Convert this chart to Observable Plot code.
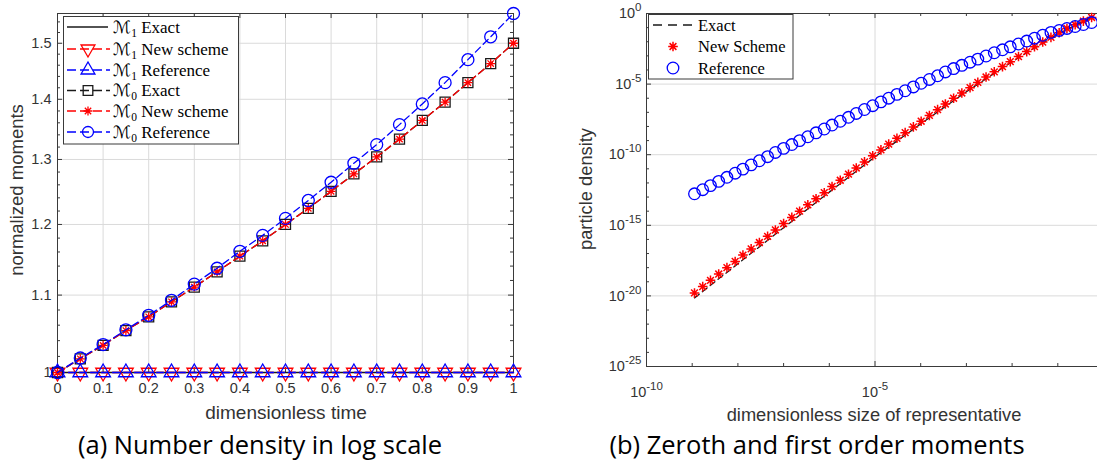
<!DOCTYPE html>
<html><head><meta charset="utf-8">
<script src="https://cdn.jsdelivr.net/npm/d3@7"></script>
<script src="https://cdn.jsdelivr.net/npm/@observablehq/plot@0.6"></script>
<style>
html,body{margin:0;padding:0;background:#fff;overflow:hidden;width:1097px;height:461px}
#wrap{position:relative;width:1097px;height:461px;overflow:hidden}
#wrap svg{position:absolute}
</style></head><body><div id="wrap"></div><script>
// ---------- DATA (a) ----------
const times = [0,0.05,0.1,0.15,0.2,0.25,0.3,0.35,0.4,0.45,0.5,0.55,0.6,0.65,0.7,0.75,0.8,0.85,0.9,0.95,1];
const m1Exact = [1,1,1,1,1,1,1,1,1,1,1,1,1,1,1,1,1,1,1,1,1];
const m1New   = [1,1,1,1,1,1,1,1,1,1,1,1,1,1,1,1,1,1,1,1,1];
const m1Ref   = [1,1,1,1,1,1,1,1,1,1,1,1,1,1,1,1,1,1,1,1,1];
const m0Exact = [1.000,1.017,1.034,1.053,1.071,1.091,1.111,1.132,1.154,1.176,1.200,1.224,1.250,1.277,1.304,1.333,1.364,1.395,1.429,1.463,1.500];
const m0New   = [1.000,1.017,1.034,1.053,1.071,1.091,1.111,1.132,1.154,1.176,1.200,1.224,1.250,1.277,1.304,1.333,1.364,1.395,1.429,1.463,1.500];
const m0Ref   = [1.000,1.018,1.035,1.054,1.073,1.093,1.115,1.137,1.161,1.184,1.209,1.236,1.264,1.294,1.324,1.357,1.392,1.429,1.470,1.512,1.556];
const tTickVals = [0,0.1,0.2,0.3,0.4,0.5,0.6,0.7,0.8,0.9,1];
const tTickLabels = ["0","0.1","0.2","0.3","0.4","0.5","0.6","0.7","0.8","0.9","1"];
const mTickVals = [1,1.1,1.2,1.3,1.4,1.5];
const mTickLabels = ["1","1.1","1.2","1.3","1.4","1.5"];
const mMinorVals = [1.02,1.04,1.06,1.08,1.12,1.14,1.16,1.18,1.22,1.24,1.26,1.28,1.32,1.34,1.36,1.38,1.42,1.44,1.46,1.48,1.52,1.54];

// ---------- DATA (b) : log10 of values ----------
const sizeExp = [-8.95,-8.77,-8.60,-8.42,-8.24,-8.06,-7.89,-7.71,-7.53,-7.35,-7.18,-7.00,-6.82,-6.65,-6.47,-6.29,-6.11,-5.94,-5.76,-5.58,-5.41,-5.23,-5.05,-4.87,-4.70,-4.52,-4.34,-4.16,-3.99,-3.81,-3.63,-3.46,-3.28,-3.10,-2.92,-2.75,-2.57,-2.39,-2.21,-2.04,-1.86,-1.68,-1.51,-1.33,-1.15,-0.97,-0.80,-0.62,-0.44,-0.26];
const newExp = [-19.79,-19.34,-18.90,-18.45,-18.00,-17.56,-17.11,-16.67,-16.22,-15.78,-15.33,-14.88,-14.44,-14.00,-13.55,-13.12,-12.69,-12.25,-11.81,-11.38,-10.94,-10.51,-10.07,-9.66,-9.25,-8.84,-8.44,-8.03,-7.63,-7.22,-6.81,-6.41,-6.00,-5.63,-5.25,-4.88,-4.50,-4.13,-3.76,-3.41,-3.05,-2.70,-2.35,-2.02,-1.69,-1.36,-1.06,-0.80,-0.54,-0.28];
const refExp = [-12.77,-12.48,-12.19,-11.89,-11.60,-11.31,-11.02,-10.72,-10.43,-10.14,-9.84,-9.55,-9.28,-9.00,-8.73,-8.45,-8.18,-7.90,-7.63,-7.35,-7.08,-6.80,-6.53,-6.26,-6.00,-5.73,-5.47,-5.20,-4.94,-4.67,-4.41,-4.14,-3.90,-3.67,-3.45,-3.23,-3.01,-2.78,-2.57,-2.36,-2.16,-1.95,-1.75,-1.54,-1.34,-1.20,-1.06,-0.92,-0.78,-0.64];
const exactSizeExp = [-8.95,-8,-7,-6,-5,-4,-3,-2,-1,-0.26];
const exactExp = [-20.14,-17.72,-15.17,-12.65,-10.15,-7.82,-5.54,-3.41,-1.45,-0.28];
const sizeTickVals = [1e-10,1e-5];
const sizeTickLabels = ["10^-10","10^-5"];
const sizeMinorVals = [1e-9,1e-8,1e-7,1e-6,1e-4,1e-3,1e-2,1e-1];
const densTickVals = [1e-25,1e-20,1e-15,1e-10,1e-5,1];
const densTickLabels = ["10^-25","10^-20","10^-15","10^-10","10^-5","10^0"];
const densMinorVals = [1e-24,1e-23,1e-22,1e-21,1e-19,1e-18,1e-17,1e-16,1e-14,1e-13,1e-12,1e-11,1e-9,1e-8,1e-7,1e-6,1e-4,1e-3,1e-2,1e-1];

// ---------- symbols ----------
const R = s => Math.sqrt(s/Math.PI);
const symAst = {draw(c,s){const r=R(s),d=r*Math.SQRT1_2;c.moveTo(-r,0);c.lineTo(r,0);c.moveTo(0,-r);c.lineTo(0,r);c.moveTo(-d,-d);c.lineTo(d,d);c.moveTo(-d,d);c.lineTo(d,-d);}};
const symSq = {draw(c,s){const r=R(s);c.moveTo(-r,-r);c.lineTo(r,-r);c.lineTo(r,r);c.lineTo(-r,r);c.closePath();}};
const symUp = {draw(c,s){const r=R(s);c.moveTo(0,-r);c.lineTo(r*0.866,r*0.5);c.lineTo(-r*0.866,r*0.5);c.closePath();}};
const symDn = {draw(c,s){const r=R(s);c.moveTo(0,r);c.lineTo(r*0.866,-r*0.5);c.lineTo(-r*0.866,-r*0.5);c.closePath();}};
const symCi = {draw(c,s){const r=R(s);c.moveTo(r,0);c.arc(0,0,r,0,2*Math.PI);}};

const red="#ff0000", blue="#0000ff", blk="#1a1a1a", axc="#3a3a3a", grid="#dadada";
const font = "'Liberation Sans', Arial, sans-serif";
const wrap = document.getElementById("wrap");

function lookup(vals, labels){ return d => { const k = vals.indexOf(d); return k<0 ? "" : labels[k]; }; }
function supify(svg){
  const ns="http://www.w3.org/2000/svg";
  svg.querySelectorAll("text").forEach(t=>{
    const s=t.textContent, k=s.indexOf("^");
    if(k<0) return;
    t.textContent="";
    const a=document.createElementNS(ns,"tspan"); a.textContent=s.slice(0,k);
    const b=document.createElementNS(ns,"tspan"); b.textContent=s.slice(k+1);
    b.setAttribute("font-size","11.5px"); b.setAttribute("dy","-0.6em");
    t.append(a,b);
  });
}

// ---------- chart (a) ----------
{
  const W=540,H=440,mt=13,ml=57,mr=27,mb=68, fw=W-ml-mr, fh=H-mt-mb;
  const idx = d3.range(times.length);
  const X = i=>times[i];
  const sw = 1.3;
  const p = Plot.plot({
    width:W,height:H,marginTop:mt,marginLeft:ml,marginRight:mr,marginBottom:mb,
    style:{fontFamily:font,fontSize:"14.5px",color:"#333",background:"transparent",overflow:"visible"},
    x:{domain:[0,1]},
    y:{type:"log",domain:[1,1.556]},
    marks:[
      Plot.gridX(tTickVals,{x:d=>d,stroke:grid,strokeOpacity:1}),
      Plot.gridY(mTickVals,{y:d=>d,stroke:grid,strokeOpacity:1}),
      Plot.tickX(tTickVals,{x:d=>d,insetTop:fh-5,stroke:axc}),
      Plot.tickX(tTickVals,{x:d=>d,insetBottom:fh-5,stroke:axc}),
      Plot.tickY(mTickVals,{y:d=>d,insetRight:fw-5,stroke:axc}),
      Plot.tickY(mTickVals,{y:d=>d,insetLeft:fw-5,stroke:axc}),
      Plot.tickY(mMinorVals,{y:d=>d,insetRight:fw-3,stroke:axc}),
      Plot.tickY(mMinorVals,{y:d=>d,insetLeft:fw-3,stroke:axc}),
      Plot.frame({stroke:axc}),
      Plot.axisX({ticks:tTickVals,tickSize:0,tickPadding:10,tickFormat:lookup(tTickVals,tTickLabels),label:null}),
      Plot.axisY({ticks:mTickVals,tickSize:0,tickPadding:6,tickFormat:lookup(mTickVals,mTickLabels),label:null}),
      Plot.line(idx,{x:X,y:i=>m1Exact[i],stroke:blk,strokeWidth:sw}),
      Plot.line(idx,{x:X,y:i=>m1New[i],stroke:red,strokeWidth:sw,strokeDasharray:"7,4"}),
      Plot.dot(idx,{x:X,y:i=>m1New[i],symbol:symDn,r:8.5,stroke:red,fill:"none",strokeWidth:sw}),
      Plot.line(idx,{x:X,y:i=>m1Ref[i],stroke:blue,strokeWidth:sw,strokeDasharray:"7,4"}),
      Plot.dot(idx,{x:X,y:i=>m1Ref[i],symbol:symUp,r:8.5,stroke:blue,fill:"none",strokeWidth:sw}),
      Plot.line(idx,{x:X,y:i=>m0Exact[i],stroke:blk,strokeWidth:sw,strokeDasharray:"7,4"}),
      Plot.dot(idx,{x:X,y:i=>m0Exact[i],symbol:symSq,r:5,stroke:blk,fill:"none",strokeWidth:sw}),
      Plot.line(idx,{x:X,y:i=>m0New[i],stroke:red,strokeWidth:sw,strokeDasharray:"7,4"}),
      Plot.dot(idx,{x:X,y:i=>m0New[i],symbol:symAst,r:4.5,stroke:red,fill:"none",strokeWidth:sw}),
      Plot.line(idx,{x:X,y:i=>m0Ref[i],stroke:blue,strokeWidth:sw,strokeDasharray:"7,4"}),
      Plot.dot(idx,{x:X,y:i=>m0Ref[i],symbol:symCi,r:6,stroke:blue,fill:"none",strokeWidth:sw})
    ]
  });
  p.style.left="0px"; p.style.top="0px";
  wrap.appendChild(p);
}

// ---------- chart (b) ----------
{
  const W=560,H=440,mt=13,ml=86,mr=17,mb=74, fw=W-ml-mr, fh=H-mt-mb;
  const idx = d3.range(sizeExp.length);
  const eidx = d3.range(exactSizeExp.length);
  const p = Plot.plot({
    width:W,height:H,marginTop:mt,marginLeft:ml,marginRight:mr,marginBottom:mb,
    style:{fontFamily:font,fontSize:"14.5px",color:"#333",background:"transparent",overflow:"visible"},
    x:{type:"log",domain:[1e-10,1]},
    y:{type:"log",domain:[1e-25,1]},
    marks:[
      Plot.gridX([1e-5],{x:d=>d,stroke:grid,strokeOpacity:1}),
      Plot.gridY([1e-20,1e-15,1e-10,1e-5],{y:d=>d,stroke:grid,strokeOpacity:1}),
      Plot.tickX(sizeTickVals,{x:d=>d,insetTop:fh-5,stroke:axc}),
      Plot.tickX(sizeTickVals,{x:d=>d,insetBottom:fh-5,stroke:axc}),
      Plot.tickX(sizeMinorVals,{x:d=>d,insetTop:fh-3,stroke:axc}),
      Plot.tickX(sizeMinorVals,{x:d=>d,insetBottom:fh-3,stroke:axc}),
      Plot.tickY(densTickVals,{y:d=>d,insetRight:fw-5,stroke:axc}),
      Plot.tickY(densMinorVals,{y:d=>d,insetRight:fw-3,stroke:axc}),
      Plot.frame({stroke:axc}),
      Plot.axisX({ticks:sizeTickVals,tickSize:0,tickPadding:20,tickFormat:lookup(sizeTickVals,sizeTickLabels),label:null}),
      Plot.axisY({ticks:densTickVals,tickSize:0,tickPadding:5,tickFormat:lookup(densTickVals,densTickLabels),label:null}),
      Plot.line(eidx,{x:i=>10**exactSizeExp[i],y:i=>10**exactExp[i],stroke:blk,strokeWidth:1.3,strokeDasharray:"6,4"}),
      Plot.dot(idx,{x:i=>10**sizeExp[i],y:i=>10**newExp[i],symbol:symAst,r:4.8,stroke:red,fill:"none",strokeWidth:1.5}),
      Plot.dot(idx,{x:i=>10**sizeExp[i],y:i=>10**refExp[i],symbol:symCi,r:5.8,stroke:blue,fill:"none",strokeWidth:1.3})
    ]
  });
  supify(p);
  p.style.left="560px"; p.style.top="0px";
  wrap.appendChild(p);
}

// ---------- overlay: titles, captions, legends ----------
{
  const ov = d3.create("svg").attr("width",1097).attr("height",461).style("left","0px").style("top","0px");
  const lab = (x,y,txt,size,rot) => {
    const t = ov.append("text").attr("text-anchor","middle").attr("font-family",font).attr("font-size",size).attr("fill","#333").text(txt);
    t.attr("transform", rot ? `translate(${x},${y}) rotate(-90)` : `translate(${x},${y})`);
  };
  lab(23,190,"normalized moments",18.5,true);
  lab(286,419,"dimensionless time",19,false);
  lab(592,189,"particle density",18.3,true);
  lab(874,421,"dimensionless size of representative",18.3,false);
  const cap = (x,y,txt) => ov.append("text").attr("x",x).attr("y",y).attr("text-anchor","middle")
      .attr("font-family","'Open Sans', sans-serif").attr("font-size",25.5).attr("fill","#000").text(txt);
  cap(260,454,"(a) Number density in log scale");
  cap(817,454,"(b) Zeroth and first order moments");

  const serif = "'Liberation Serif','Times New Roman',serif";
  const symPath = (sym,r) => d3.symbol(sym, r*r*Math.PI)();
  // legend (a)
  ov.append("rect").attr("x",63.5).attr("y",16.5).attr("width",175).attr("height",127.5).attr("fill","#fff").attr("stroke",axc);
  const la = [
    {y:27, c:blk, dash:null, sym:null, sub:"1", txt:"Exact"},
    {y:49, c:red, dash:"9,4", sym:symDn, r:8, sub:"1", txt:"New scheme"},
    {y:70, c:blue, dash:"9,4", sym:symUp, r:8, sub:"1", txt:"Reference"},
    {y:90.5, c:blk, dash:"9,4", sym:symSq, r:4.8, sub:"0", txt:"Exact"},
    {y:111, c:red, dash:"9,4", sym:symAst, r:4.5, sub:"0", txt:"New scheme"},
    {y:132, c:blue, dash:"9,4", sym:symCi, r:5.5, sub:"0", txt:"Reference"}
  ];
  for (const e of la) {
    const ln = ov.append("line").attr("x1",67).attr("x2",e.dash?110:108).attr("y1",e.y).attr("y2",e.y).attr("stroke",e.c).attr("stroke-width",1.3);
    if (e.dash) ln.attr("stroke-dasharray",e.dash);
    if (e.sym) ov.append("path").attr("d",symPath(e.sym,e.r)).attr("transform",`translate(88,${e.y})`).attr("fill","none").attr("stroke",e.c).attr("stroke-width",1.3);
    const t = ov.append("text").attr("x",113).attr("y",e.y+5.5).attr("font-family",serif).attr("font-size",17).attr("fill","#000");
    t.append("tspan").attr("font-family","'DejaVu Serif','DejaVu Sans',serif").attr("font-style","italic").text("ℳ");
    t.append("tspan").attr("font-size",11.5).attr("dy",4).text(e.sub);
    t.append("tspan").attr("dy",-4).text(" "+e.txt);
  }
  // legend (b)
  ov.append("rect").attr("x",648.5).attr("y",14.5).attr("width",144.5).attr("height",64.5).attr("fill","#fff").attr("stroke",axc);
  ov.append("line").attr("x1",653).attr("x2",696).attr("y1",25).attr("y2",25).attr("stroke",blk).attr("stroke-width",1.3).attr("stroke-dasharray","9,6");
  ov.append("path").attr("d",symPath(symAst,4.8)).attr("transform","translate(673,46.5)").attr("fill","none").attr("stroke",red).attr("stroke-width",1.5);
  ov.append("path").attr("d",symPath(symCi,5.8)).attr("transform","translate(673,68)").attr("fill","none").attr("stroke",blue).attr("stroke-width",1.3);
  [["Exact",25],["New Scheme",46.5],["Reference",68]].forEach(([s,y]) =>
    ov.append("text").attr("x",698).attr("y",y+5.5).attr("font-family",serif).attr("font-size",16.5).attr("fill","#000").text(s));
  wrap.appendChild(ov.node());
}
</script></body></html>
